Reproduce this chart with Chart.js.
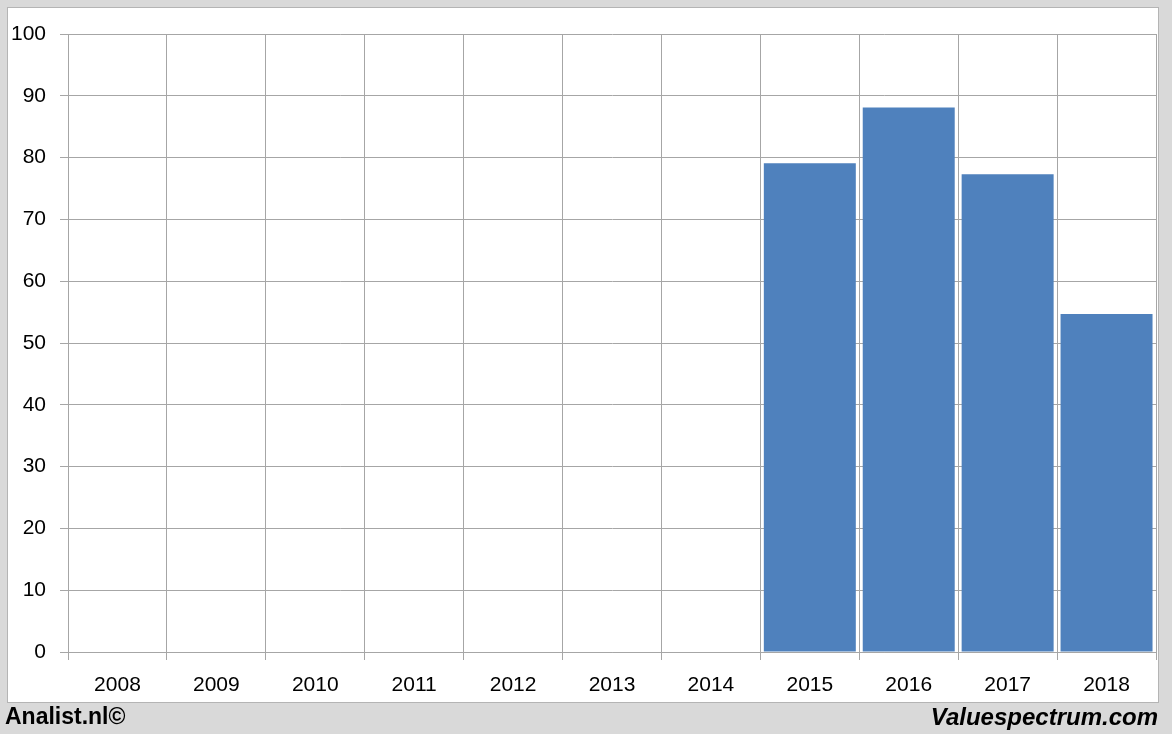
<!DOCTYPE html>
<html>
<head>
<meta charset="utf-8">
<script src="https://cdn.jsdelivr.net/npm/chart.js@4/dist/chart.umd.min.js"></script>
<style>
  body { margin: 0; background: #d9d9d9; }
  canvas { display: block; }
</style>
</head>
<body>
<canvas id="barChart" width="1172" height="734"></canvas>
<script>
// chart data
var years = ['2008', '2009', '2010', '2011', '2012', '2013', '2014', '2015', '2016', '2017', '2018'];
var values = [null, null, null, null, null, null, null, 79.1, 88.1, 77.3, 54.7];
var yTicks = [0, 10, 20, 30, 40, 50, 60, 70, 80, 90, 100];

var labelFont = { family: 'Liberation Sans', size: 21 };

// grey frame, white panel and the footer texts
var framePlugin = {
    id: 'frame',
    beforeDraw: function (chart) {
        var ctx = chart.ctx;
        ctx.save();
        ctx.fillStyle = '#d9d9d9';
        ctx.fillRect(0, 0, chart.width, chart.height);
        ctx.fillStyle = '#ffffff';
        ctx.fillRect(7, 7, 1152, 696);
        ctx.strokeStyle = '#b4b4b4';
        ctx.lineWidth = 1;
        ctx.strokeRect(7.5, 7.5, 1151, 695);
        ctx.restore();
    },
    afterDraw: function (chart) {
        var ctx = chart.ctx;
        ctx.save();
        ctx.fillStyle = '#000000';
        ctx.textBaseline = 'middle';
        ctx.font = 'bold 23px "Liberation Sans"';
        ctx.textAlign = 'left';
        ctx.fillText('Analist.nl\u00a9', 5, 718);
        ctx.font = 'italic bold 24px "Liberation Sans"';
        ctx.textAlign = 'right';
        ctx.fillText('Valuespectrum.com', 1158, 718);
        ctx.restore();
    }
};

var ctxBar = document.getElementById('barChart').getContext('2d');
var barChart = new Chart(ctxBar, {
    type: 'bar',
    data: {
        labels: years,
        datasets: [{
            data: values,
            backgroundColor: '#4f81bd',
            borderWidth: 0,
            barPercentage: 0.93,
            categoryPercentage: 1
        }]
    },
    options: {
        responsive: false,
        animation: false,
        layout: { padding: { top: 34, right: 16, bottom: 40, left: 0 } },
        plugins: {
            legend: { display: false },
            tooltip: { enabled: false }
        },
        scales: {
            x: {
                afterFit: function (scale) { scale.height = 42; },
                grid: { color: '#a6a6a6', offset: true, tickLength: 8 },
                border: { color: '#a6a6a6' },
                ticks: { color: '#000', font: labelFont, padding: 13, maxRotation: 0 }
            },
            y: {
                min: 0,
                max: 100,
                afterFit: function (scale) { scale.width = 68; },
                afterBuildTicks: function (scale) {
                    scale.ticks = yTicks.map(function (v) { return { value: v }; });
                },
                grid: { color: '#a6a6a6', tickLength: 8 },
                border: { color: '#a6a6a6' },
                ticks: { color: '#000', font: labelFont, padding: 14 }
            }
        }
    },
    plugins: [framePlugin]
});
</script>
</body>
</html>
